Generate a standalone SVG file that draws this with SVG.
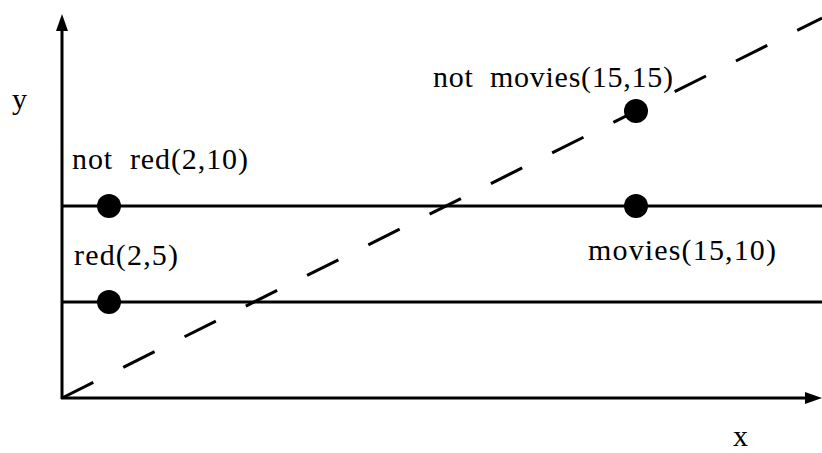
<svg xmlns="http://www.w3.org/2000/svg" width="822" height="453" viewBox="0 0 822 453">
<style>
.ln{stroke:#000;stroke-width:3;fill:none}
.dot{fill:#000}
text{font-family:"Liberation Serif","Times New Roman",serif;font-size:30px;fill:#000;white-space:pre}
</style>
<rect width="822" height="453" fill="#fff"/>
<g id="connectors">
<line class="ln" x1="62" y1="399" x2="62" y2="30"/>
<path d="M56,31 L62,14 L68,31 z" fill="#000"/>
<line class="ln" x1="61" y1="398" x2="806" y2="398"/>
<path d="M805,392 L822,398 L805,404 z" fill="#000"/>
<line class="ln" x1="62" y1="206" x2="822" y2="206"/>
<line class="ln" x1="62" y1="302" x2="822" y2="302"/>
<line class="ln" x1="62" y1="398" x2="822" y2="18" stroke-dasharray="35 33.5"/>
</g>
<g id="axis-y"><text x="12" y="109">y</text></g>
<g id="axis-x"><text x="733" y="446">x</text></g>
<g id="not-red"><circle class="dot" cx="109" cy="206" r="12"/><text x="72" y="169" textLength="176" lengthAdjust="spacing" xml:space="preserve">not  red(2,10)</text></g>
<g id="red"><circle class="dot" cx="109" cy="302" r="12"/><text x="74" y="265" textLength="104" lengthAdjust="spacing">red(2,5)</text></g>
<g id="not-movies"><circle class="dot" cx="636" cy="111" r="12"/><text x="433" y="87" textLength="240" lengthAdjust="spacing" xml:space="preserve">not  movies(15,15)</text></g>
<g id="movies"><circle class="dot" cx="636" cy="206" r="12"/><text x="588" y="260" textLength="188" lengthAdjust="spacing">movies(15,10)</text></g>
</svg>
